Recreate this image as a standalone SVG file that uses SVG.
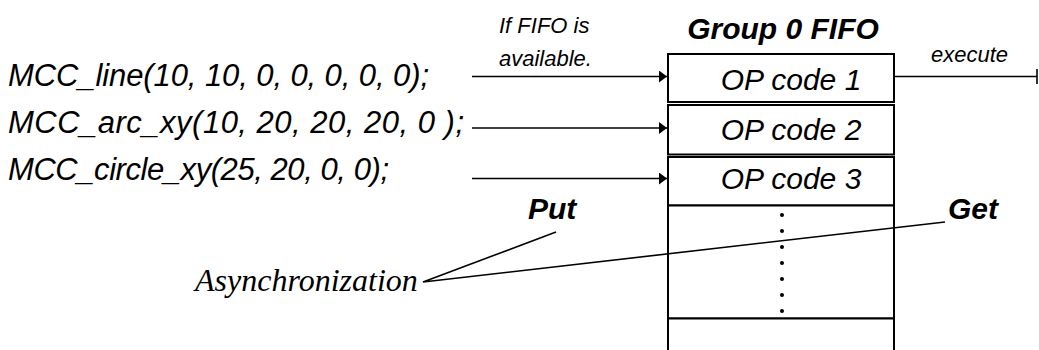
<svg xmlns="http://www.w3.org/2000/svg" width="1039" height="350" viewBox="0 0 1039 350">
  <defs>
    <marker id="arrow" viewBox="0 0 8 12" refX="8" refY="6" markerWidth="8" markerHeight="12" markerUnits="userSpaceOnUse" orient="auto">
      <path d="M0,0 L8,6 L0,12 Z" fill="#000"/>
    </marker>
  </defs>
  <style>
    .cell { fill: #fff; stroke: #000; stroke-width: 2; }
    .conn { fill: none; stroke: #000; stroke-width: 1.6; }
    .code { font-family: "Liberation Sans", Arial, sans-serif; font-style: italic; font-size: 30px; fill: #000; }
    .call { font-family: "Liberation Sans", Arial, sans-serif; font-style: italic; font-size: 31px; fill: #000; }
    .note { font-family: "Liberation Sans", Arial, sans-serif; font-style: italic; font-size: 22px; fill: #000; }
    .head { font-family: "Liberation Sans", Arial, sans-serif; font-style: italic; font-weight: bold; font-size: 30px; fill: #000; }
    .serif { font-family: "Liberation Serif", "Times New Roman", serif; font-style: italic; font-size: 32px; fill: #000; }
  </style>
  <rect width="1039" height="350" fill="#fff"/>

  <!-- function calls -->
  <g id="call-line"><text class="call" x="8" y="86" textLength="421" lengthAdjust="spacing">MCC_line(10, 10, 0, 0, 0, 0, 0);</text></g>
  <g id="call-arc"><text class="call" x="8" y="133" textLength="456" lengthAdjust="spacing">MCC_arc_xy(10, 20, 20, 20, 0 );</text></g>
  <g id="call-circle"><text class="call" x="8" y="180" textLength="381" lengthAdjust="spacing">MCC_circle_xy(25, 20, 0, 0);</text></g>

  <g id="cond-label"><text class="note" x="499" y="33">If FIFO is</text><text class="note" x="499" y="66">available.</text></g>

  <!-- FIFO queue -->
  <g id="fifo">
    <text class="head" x="783" y="39" text-anchor="middle" font-size="32">Group 0 FIFO</text>
    <g id="op1"><rect class="cell" x="668" y="54" width="226" height="48"/><text class="code" x="791" y="90" text-anchor="middle">OP code 1</text></g>
    <g id="op2"><rect class="cell" x="668" y="105" width="226" height="49.5"/><text class="code" x="791" y="140" text-anchor="middle">OP code 2</text></g>
    <g id="op3"><rect class="cell" x="668" y="157" width="226" height="48.5"/><text class="code" x="791" y="189" text-anchor="middle">OP code 3</text></g>
    <g id="slots">
      <rect class="cell" x="668" y="205.5" width="226" height="113"/>
      <g fill="#000">
        <circle cx="782" cy="215" r="2"/><circle cx="782" cy="231" r="2"/><circle cx="782" cy="247" r="2"/>
        <circle cx="782" cy="263" r="2"/><circle cx="782" cy="279" r="2"/><circle cx="782" cy="295" r="2"/>
        <circle cx="782" cy="311" r="2"/>
      </g>
    </g>
    <g id="last"><rect class="cell" x="668" y="318.5" width="226" height="40"/></g>
  </g>

  <g id="exec-label"><text class="note" x="931" y="62" font-size="25">execute</text></g>
  <g id="put-label"><text class="head" x="528" y="219">Put</text></g>
  <g id="get-label"><text class="head" x="948" y="219">Get</text></g>
  <g id="async-label"><text class="serif" x="195" y="291">Asynchronization</text></g>

  <!-- connectors -->
  <g id="connectors">
    <line class="conn" x1="472" y1="76.5" x2="667" y2="76.5" marker-end="url(#arrow)"/>
    <line class="conn" x1="472" y1="128" x2="667" y2="128" marker-end="url(#arrow)"/>
    <line class="conn" x1="472" y1="178.5" x2="667" y2="178.5" marker-end="url(#arrow)"/>
    <line class="conn" x1="894" y1="76.5" x2="1037" y2="76.5"/>
    <line class="conn" x1="1037" y1="69" x2="1037" y2="84" stroke-width="2"/>
    <polyline class="conn" points="556,232 423,282 945,222"/>
  </g>
</svg>
